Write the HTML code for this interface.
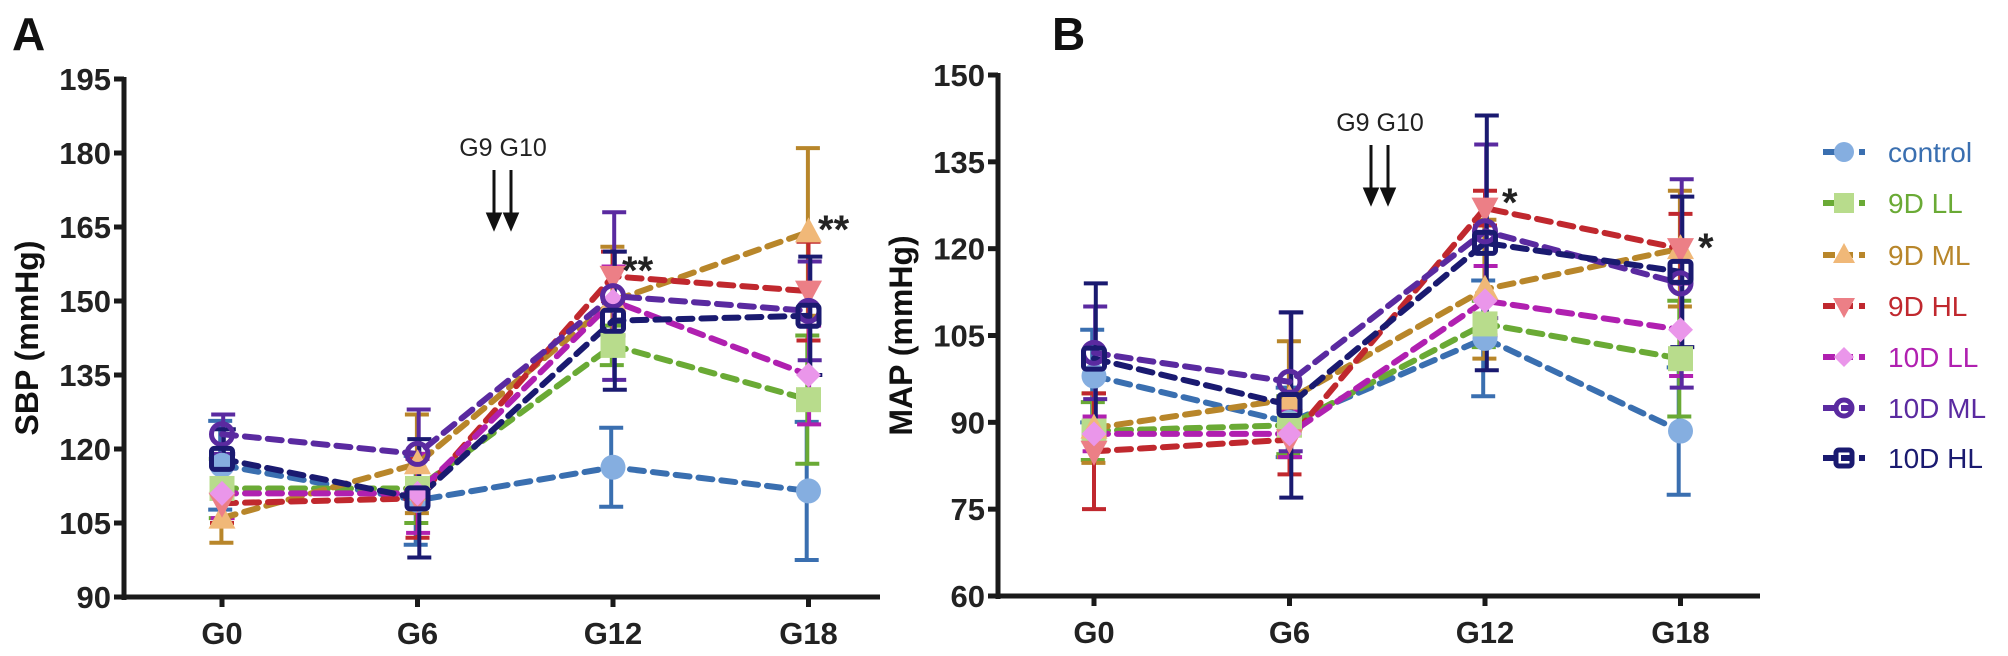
<!DOCTYPE html>
<html><head><meta charset="utf-8">
<style>
html,body{margin:0;padding:0;background:#fff;}
svg{display:block;font-family:"Liberation Sans",Arial,sans-serif;}
</style></head>
<body>
<svg id="chart" width="2008" height="656" viewBox="0 0 2008 656" xmlns="http://www.w3.org/2000/svg"></svg>
<script>
// ---- data ----
const categories = ["G0","G6","G12","G18"];
const seriesNames = ["control","9D LL","9D ML","9D HL","10D LL","10D ML","10D HL"];
// Panel A: SBP
const sbpControl = [116.7,109.6,116.3,111.5];
const sbp9DLL = [112,112,141,130];
const sbp9DML = [106,117,150,164];
const sbp9DHL = [109,110,155,152];
const sbp10DLL = [111,111,150,135];
const sbp10DML = [123,119,151,148];
const sbp10DHL = [118,110,146,147];
const sbpErrControl = [9,9,8,14];
const sbpErr9DLL = [6,7,4,13];
const sbpErr9DML = [5,10,11,17];
const sbpErr9DHL = [4,8,5,10];
const sbpErr10DLL = [5,8,7,10];
const sbpErr10DML = [4,9,17,10];
const sbpErr10DHL = [6,12,14,12];
const sbpTicks = [90,105,120,135,150,165,180,195];
// Panel B: MAP
const mapControl = [98,90,104.5,88.5];
const map9DLL = [88.5,89.5,107,101];
const map9DML = [89,94,113,120];
const map9DHL = [85,87,127,120];
const map10DLL = [88,88,111,106];
const map10DML = [102,97,123,114];
const map10DHL = [101,93,121,116];
const mapErrControl = [8,6,10,11];
const mapErr9DLL = [5,5,4,10];
const mapErr9DML = [6,10,12,10];
const mapErr9DHL = [10,6,3,6];
const mapErr10DLL = [3,4,6,8];
const mapErr10DML = [8,12,15,18];
const mapErr10DHL = [13,16,22,13];
const mapTicks = [60,75,90,105,120,135,150];

const lineColors = ["#3a6fb0","#6aaa35","#b8862a","#c0282e","#b020b0","#5a2aa0","#1a1a70"];
const markerFills = ["#85aee0","#b8dc8c","#f0b878","#ec7f86","#ea96ea","#ffffff","#ffffff"];
const markerShapes = ["circle","square","tri-up","tri-down","diamond","ring","sqring"];

const NS="http://www.w3.org/2000/svg";
const svg=document.getElementById('chart');
function mk(tag,attrs,parent){const e=document.createElementNS(NS,tag);for(const k in attrs)e.setAttribute(k,attrs[k]);(parent||svg).appendChild(e);return e;}

function drawPanel(p){
  const g=mk('g',{});
  
  
  const ymin=p.ticks[0], ymax=p.ticks[p.ticks.length-1];
  const yS=v=>p.yBot-(v-ymin)/(ymax-ymin)*(p.yBot-p.yTop);
  const xS=i=>p.x0+i*p.dx;
  const ya=mk('line',{x1:p.ax,y1:p.yTop-2,x2:p.ax,y2:p.yBot+3,stroke:'#1a1a1a','stroke-width':5},g);
  
  const xa=mk('line',{x1:p.ax-2,y1:p.yBot,x2:p.xEnd,y2:p.yBot,stroke:'#1a1a1a','stroke-width':5},g);
  
  p.ticks.forEach(t=>{
    const y=yS(t);
    mk('line',{x1:p.ax-10,y1:y,x2:p.ax,y2:y,stroke:'#1a1a1a','stroke-width':5},g);
    const tx=mk('text',{x:p.ax-13,y:y+11,'text-anchor':'end','font-size':31,'font-weight':'bold',fill:'#222'},g);
    tx.textContent=t;
    
  });
  categories.forEach((c,i)=>{
    const x=xS(i);
    mk('line',{x1:x,y1:p.yBot,x2:x,y2:p.yBot+10,stroke:'#1a1a1a','stroke-width':5},g);
    const tx=mk('text',{x:x,y:p.yBot+47,'text-anchor':'middle','font-size':31,'font-weight':'bold',fill:'#222'},g);
    tx.textContent=c;
    
  });
  const yt=mk('text',{x:0,y:0,'text-anchor':'middle','font-size':32,'font-weight':'bold',fill:'#111',transform:`translate(${p.labelX},${(p.yTop+p.yBot)/2}) rotate(-90)`},g);
  yt.textContent=p.ylabel;
  
  const L=mk('text',{x:p.letterX,y:50,'font-size':46,'font-weight':'bold',fill:'#111'},g);
  L.textContent=p.letter;
  
  p.series.forEach((s,si)=>{
    s.forEach((v,i)=>{
      const x=xS(i)+(si-3)*0.6, e=p.errs[si][i];
      const eb=mk('path',{d:`M${x},${yS(v-e)}V${yS(v+e)}M${x-12},${yS(v-e)}h24M${x-12},${yS(v+e)}h24`,stroke:lineColors[si],'stroke-width':4,fill:'none'},g);
      
    });
  });
  p.series.forEach((s,si)=>{
    const d=s.map((v,i)=>(i?'L':'M')+xS(i)+','+yS(v)).join('');
    const ln=mk('path',{d:d,stroke:lineColors[si],'stroke-width':6,fill:'none','stroke-dasharray':'14 9','stroke-linecap':'round'},g);
    
    
  });
  p.series.forEach((s,si)=>{
    s.forEach((v,i)=>{
      const m=marker(g,markerShapes[si],xS(i),yS(v),si,12.5);
      
      
    });
  });
  const at=mk('text',{x:p.annX,y:p.annY,'text-anchor':'middle','font-size':25,fill:'#222'},g);
  at.textContent='G9 G10';
  
  [p.annX-9,p.annX+8].forEach(x=>{
    const a=mk('path',{d:`M${x},${p.annY+14}V${p.arrEnd-12}M${x-6},${p.arrEnd-14}L${x},${p.arrEnd}L${x+6},${p.arrEnd-14}Z`,stroke:'#111','stroke-width':3,fill:'#111'},g);
    
  });
  p.stars.forEach(st=>{
    const t=mk('text',{x:st[0],y:st[1],'font-size':40,'font-weight':'bold',fill:'#222'},g);
    t.textContent=st[2];
    
  });
}

function marker(parent,shape,x,y,si,sz){
  sz=sz||11;const c=lineColors[si],f=markerFills[si];let e;
  if(shape==='circle') e=mk('circle',{cx:x,cy:y,r:sz,fill:f},parent);
  else if(shape==='square') e=mk('rect',{x:x-sz,y:y-sz,width:2*sz,height:2*sz,fill:f},parent);
  else if(shape==='tri-up') e=mk('path',{d:`M${x},${y-sz-2}L${x+sz+1},${y+sz-2}L${x-sz-1},${y+sz-2}Z`,fill:f},parent);
  else if(shape==='tri-down') e=mk('path',{d:`M${x},${y+sz+2}L${x+sz+1},${y-sz+2}L${x-sz-1},${y-sz+2}Z`,fill:f},parent);
  else if(shape==='diamond') e=mk('path',{d:`M${x},${y-sz}L${x+sz},${y}L${x},${y+sz}L${x-sz},${y}Z`,fill:f},parent);
  else if(shape==='ring') e=mk('circle',{cx:x,cy:y,r:sz-2,fill:'none',stroke:c,'stroke-width':5},parent);
  else e=mk('rect',{x:x-sz+2,y:y-sz+2,width:2*sz-4,height:2*sz-4,rx:3,fill:'none',stroke:c,'stroke-width':5},parent);
  return e;
}

drawPanel({name:'sbp-panel',letter:'A',letterX:12,ylabel:'SBP (mmHg)',labelX:38,ax:124,yTop:79,yBot:597,xEnd:880,x0:222,dx:195.5,
  ticks:sbpTicks,series:[sbpControl,sbp9DLL,sbp9DML,sbp9DHL,sbp10DLL,sbp10DML,sbp10DHL],
  errs:[sbpErrControl,sbpErr9DLL,sbpErr9DML,sbpErr9DHL,sbpErr10DLL,sbpErr10DML,sbpErr10DHL],
  annX:503,annY:156,arrEnd:228,stars:[[622,284,'**'],[818,243,'**']]});
drawPanel({name:'map-panel',letter:'B',letterX:1052,ylabel:'MAP (mmHg)',labelX:912,ax:998,yTop:75,yBot:596,xEnd:1760,x0:1094,dx:195.5,
  ticks:mapTicks,series:[mapControl,map9DLL,map9DML,map9DHL,map10DLL,map10DML,map10DHL],
  errs:[mapErrControl,mapErr9DLL,mapErr9DML,mapErr9DHL,mapErr10DLL,mapErr10DML,mapErr10DHL],
  annX:1380,annY:131,arrEnd:203,stars:[[1502,216,'*'],[1698,261,'*']]});

const legendRowY=[152,203,255,306,357,408,458];
const lg=mk('g',{});


seriesNames.forEach((n,si)=>{
  const y=legendRowY[si];
  const eg=mk('g',{},lg);
  
  
  mk('line',{x1:1823,y1:y,x2:1865,y2:y,stroke:lineColors[si],'stroke-width':6,'stroke-dasharray':'12 6'},eg);
  marker(eg,markerShapes[si],1844,y,si,10);
  const t=mk('text',{x:1888,y:y+10,'font-size':28,fill:lineColors[si]},eg);
  t.textContent=n;
});
</script>
</body></html>
